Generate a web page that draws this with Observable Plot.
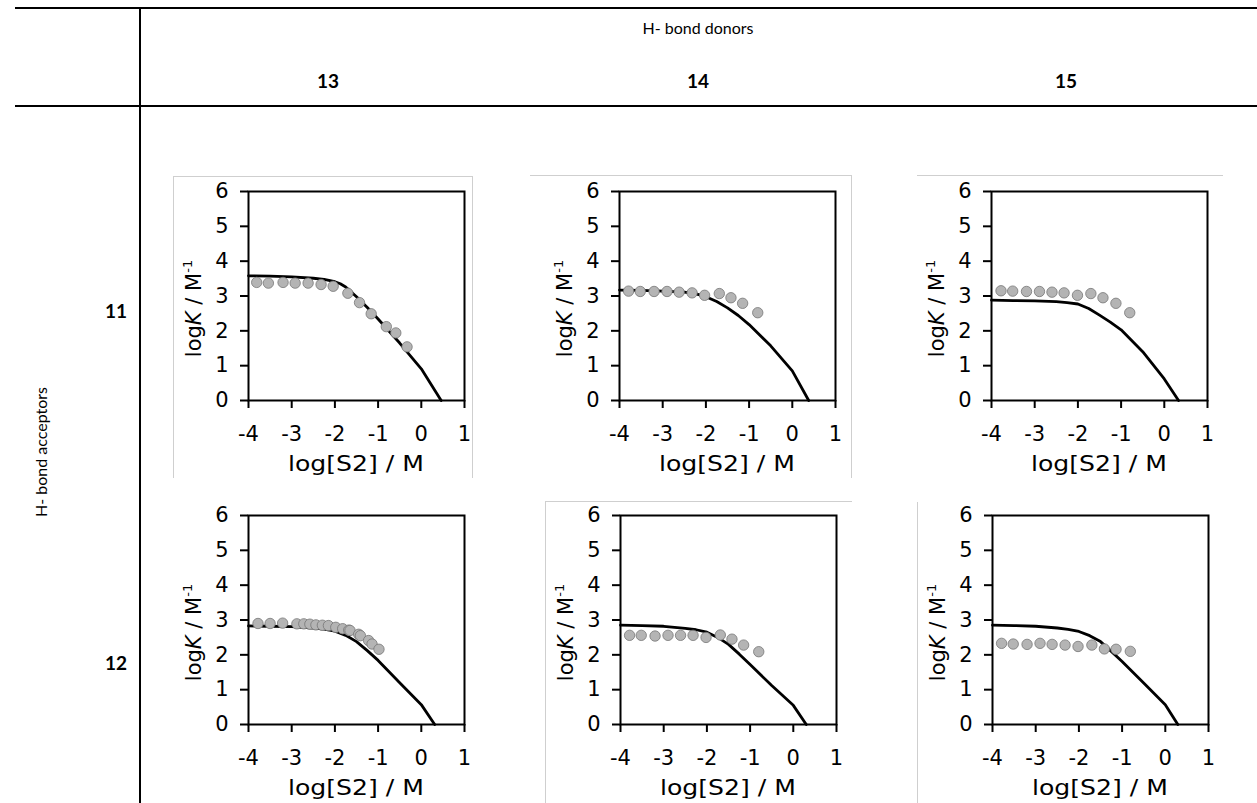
<!DOCTYPE html>
<html><head><meta charset="utf-8">
<script src="https://cdn.jsdelivr.net/npm/d3@7"></script>
<script src="https://cdn.jsdelivr.net/npm/@observablehq/plot@0.6"></script>
<style>
html,body{margin:0;padding:0;background:#fff;overflow:hidden}
#root{position:relative;width:1257px;height:803px;font-family:Lato,"Open Sans",sans-serif;color:#000}
.hl{position:absolute;height:2px;background:#000}
.vl{position:absolute;width:2px;background:#000}
.lbl{position:absolute;transform:translate(-50%,-50%);white-space:nowrap}
.panel{position:absolute}
.gf{position:absolute;box-sizing:border-box;border:0 solid #cfcfcf}
</style></head><body><div id="root"></div>
<script>
// ---- data ----
const donors = ["13", "14", "15"];
const acceptors = ["11", "12"];
const xTicks = [-4, -3, -2, -1, 0, 1];
const yTicks = [0, 1, 2, 3, 4, 5, 6];

const obsX_11_13 = [-3.81,-3.54,-3.20,-2.92,-2.62,-2.32,-2.04,-1.70,-1.43,-1.16,-0.81,-0.59,-0.33];
const obsY_11_13 = [3.39,3.37,3.39,3.37,3.37,3.33,3.28,3.08,2.81,2.49,2.12,1.94,1.54];
const fitX_11_13 = [-4,-3.5,-3,-2.5,-2.25,-2.0,-1.875,-1.75,-1.5,-1.25,-1,-0.5,0,0.46];
const fitY_11_13 = [3.58,3.57,3.55,3.51,3.48,3.41,3.35,3.26,2.98,2.67,2.34,1.65,0.91,0];

const obsX_11_14 = [-3.79,-3.52,-3.20,-2.90,-2.62,-2.32,-2.03,-1.69,-1.42,-1.15,-0.80];
const obsY_11_14 = [3.14,3.13,3.13,3.13,3.11,3.09,3.02,3.07,2.95,2.79,2.52];
const fitX_11_14 = [-4,-3.5,-3,-2.5,-2.25,-2,-1.75,-1.5,-1.25,-1,-0.5,0,0.38];
const fitY_11_14 = [3.17,3.16,3.14,3.11,3.07,2.98,2.84,2.66,2.44,2.18,1.57,0.85,0];

const obsX_11_15 = [-3.78,-3.51,-3.19,-2.89,-2.60,-2.32,-2.01,-1.70,-1.42,-1.12,-0.80];
const obsY_11_15 = [3.15,3.14,3.13,3.13,3.11,3.09,3.02,3.07,2.95,2.79,2.52];
const fitX_11_15 = [-4,-3.5,-3,-2.5,-2.25,-2,-1.75,-1.5,-1.25,-1,-0.5,0,0.33];
const fitY_11_15 = [2.88,2.87,2.86,2.84,2.81,2.77,2.64,2.45,2.25,2.03,1.40,0.62,0];

const obsX_12_13 = [-3.78,-3.50,-3.21,-2.88,-2.72,-2.58,-2.44,-2.29,-2.15,-1.98,-1.82,-1.68,-1.65,-1.45,-1.41,-1.22,-1.14,-0.98];
const obsY_12_13 = [2.90,2.90,2.91,2.89,2.89,2.88,2.86,2.85,2.84,2.79,2.75,2.71,2.70,2.59,2.55,2.41,2.31,2.16];
const fitX_12_13 = [-4,-3.5,-3,-2.5,-2.25,-2,-1.75,-1.5,-1.25,-1,-0.5,0,0.31];
const fitY_12_13 = [2.83,2.82,2.81,2.77,2.74,2.68,2.56,2.38,2.12,1.84,1.20,0.57,0];

const obsX_12_14 = [-3.79,-3.52,-3.20,-2.90,-2.61,-2.32,-2.02,-1.69,-1.42,-1.15,-0.80];
const obsY_12_14 = [2.56,2.56,2.54,2.56,2.56,2.56,2.50,2.57,2.45,2.28,2.09];
const fitX_12_14 = [-4,-3.5,-3,-2.5,-2.25,-2,-1.75,-1.5,-1.25,-1,-0.5,0,0.30];
const fitY_12_14 = [2.85,2.84,2.82,2.76,2.72,2.65,2.50,2.30,2.02,1.72,1.12,0.55,0];

const obsX_12_15 = [-3.79,-3.52,-3.20,-2.90,-2.62,-2.32,-2.02,-1.70,-1.41,-1.14,-0.81];
const obsY_12_15 = [2.33,2.31,2.30,2.33,2.30,2.28,2.24,2.28,2.17,2.16,2.10];
const fitX_12_15 = [-4,-3.5,-3,-2.5,-2.25,-2,-1.75,-1.5,-1.25,-1,-0.5,0,0.29];
const fitY_12_15 = [2.85,2.84,2.82,2.77,2.73,2.67,2.55,2.38,2.10,1.81,1.19,0.57,0];

const colTitle = "H- bond donors";
const rowTitle = "H- bond acceptors";
const xTitle = "log[S2] / M";

// ---- layout ----
const root = document.getElementById("root");
function div(cls, css, text) {
  const d = document.createElement("div");
  d.className = cls;
  Object.assign(d.style, css);
  if (text != null) d.textContent = text;
  root.appendChild(d);
  return d;
}
// table rules
div("hl", {left: "15px", top: "7px", width: "1242px"});
div("hl", {left: "15px", top: "105px", width: "1242px"});
div("vl", {left: "139px", top: "7px", height: "796px"});
// header text
div("lbl", {left: "698px", top: "27px", fontSize: "16px"}, colTitle);
const colX = [328, 698, 1066];
donors.forEach((d, i) => div("lbl", {left: colX[i] + "px", top: "80px", fontSize: "19px", fontWeight: "bold"}, d));
const rowY = [310, 662];
acceptors.forEach((a, i) => div("lbl", {left: "116px", top: rowY[i] + "px", fontSize: "19px", fontWeight: "bold"}, a));
div("lbl", {left: "40px", top: "452px", fontSize: "16px", transform: "translate(-50%,-50%) rotate(-90deg)"}, rowTitle);

// faint chart-area borders
div("gf", {left: "173px", top: "176px", width: "300px", height: "302px", borderLeftWidth: "1px", borderTopWidth: "1px", borderRightWidth: "1px"});
div("gf", {left: "530px", top: "175px", width: "322px", height: "303px", borderTopWidth: "1px", borderRightWidth: "1px"});
div("gf", {left: "917px", top: "175px", width: "306px", height: "10px", borderTopWidth: "1px"});
div("gf", {left: "545px", top: "501px", width: "307px", height: "302px", borderLeftWidth: "1px", borderTopWidth: "1px"});
div("gf", {left: "917px", top: "502px", width: "10px", height: "301px", borderLeftWidth: "1px"});

const panels = [
  {ox: obsX_11_13, oy: obsY_11_13, fx: fitX_11_13, fy: fitY_11_13, left: 174, top: 176},
  {ox: obsX_11_14, oy: obsY_11_14, fx: fitX_11_14, fy: fitY_11_14, left: 545, top: 176},
  {ox: obsX_11_15, oy: obsY_11_15, fx: fitX_11_15, fy: fitY_11_15, left: 917, top: 176},
  {ox: obsX_12_13, oy: obsY_12_13, fx: fitX_12_13, fy: fitY_12_13, left: 174, top: 500},
  {ox: obsX_12_14, oy: obsY_12_14, fx: fitX_12_14, fy: fitY_12_14, left: 546, top: 500},
  {ox: obsX_12_15, oy: obsY_12_15, fx: fitX_12_15, fy: fitY_12_15, left: 918, top: 500}
];

const W = 305, H = 304, ML = 74, MR = 15, MT = 15, MB = 80;
panels.forEach(p => {
  const obs = p.ox.map((x, i) => ({x, y: p.oy[i]}));
  const fit = p.fx.map((x, i) => ({x, y: p.fy[i]}));
  const chart = Plot.plot({
    width: W, height: H,
    marginLeft: ML, marginRight: MR, marginTop: MT, marginBottom: MB,
    style: {fontFamily: "'DejaVu Sans', Verdana, sans-serif", fontSize: "21px", color: "#000", background: "transparent", overflow: "visible"},
    x: {domain: [-4, 1]},
    y: {domain: [0, 6]},
    marks: [
      Plot.axisX({ticks: xTicks, tickSize: 8, tickPadding: 18, tickFormat: d => String(d), strokeWidth: 2, label: null}),
      Plot.axisY({ticks: yTicks, tickSize: 8, tickPadding: 12, tickFormat: d => String(d), strokeWidth: 2, label: null}),
      Plot.frame({stroke: "#000", strokeWidth: 2}),
      Plot.line(fit, {x: "x", y: "y", stroke: "#000", strokeWidth: 2.8, strokeLinejoin: "round"}),
      Plot.dot(obs, {x: "x", y: "y", r: 5.2, fill: "#b4b4b4", stroke: "#767676", strokeWidth: 0.8})
    ]
  });
  const sx = chart.scale("x"), sy = chart.scale("y");
  const svg = d3.select(chart);
  // x title
  svg.append("text")
    .attr("x", (sx.apply(-4) + sx.apply(1)) / 2)
    .attr("y", sy.apply(0) + 71)
    .attr("text-anchor", "middle")
    .attr("font-size", 21)
    .attr("textLength", 136)
    .attr("lengthAdjust", "spacingAndGlyphs")
    .text(xTitle);
  // y title with italic K and superscript
  const cy = (sy.apply(0) + sy.apply(6)) / 2 + 13;
  const t = svg.append("text")
    .attr("transform", `translate(${ML - 47},${cy}) rotate(-90)`)
    .attr("text-anchor", "middle")
    .attr("font-size", 21);
  t.append("tspan").text("log");
  t.append("tspan").attr("font-style", "italic").text("K");
  t.append("tspan").text(" / M");
  t.append("tspan").attr("font-size", 13).attr("dy", -9).text("-1");
  const wrap = document.createElement("div");
  wrap.className = "panel";
  wrap.style.left = p.left + "px";
  wrap.style.top = p.top + "px";
  wrap.appendChild(chart);
  root.appendChild(wrap);
});
</script>
</body></html>
